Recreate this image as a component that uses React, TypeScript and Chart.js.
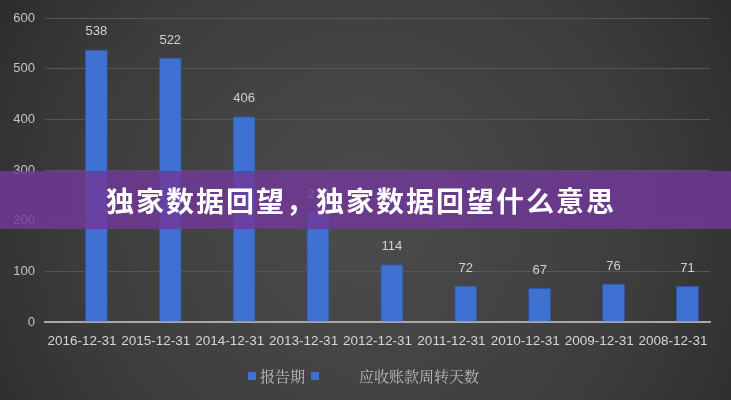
import { useEffect, useRef } from 'react';
import { Chart, registerables } from 'chart.js';

Chart.register(...registerables);

const periods = [
  '2016-12-31', '2015-12-31', '2014-12-31', '2013-12-31', '2012-12-31',
  '2011-12-31', '2010-12-31', '2009-12-31', '2008-12-31',
];
const turnoverDays = [538, 522, 406, 218, 114, 72, 67, 76, 71];
const periodSeries = periods.map(() => null);
const yTicks = [0, 100, 200, 300, 400, 500, 600];
const legendNames = ['报告期', '应收账款周转天数'];
const bannerText = '独家数据回望，独家数据回望什么意思';

const BAR = '#3f71d2';

// dark vignette behind everything
const backdrop = {
  id: 'backdrop',
  beforeDraw(chart: Chart) {
    const { ctx, width, height } = chart;
    const g = ctx.createRadialGradient(width * 0.5, height * 0.55, 40, width * 0.5, height * 0.55, width * 0.62);
    g.addColorStop(0, '#4a4a4a');
    g.addColorStop(0.6, '#3c3c3c');
    g.addColorStop(1, '#2a2a2a');
    ctx.save();
    ctx.fillStyle = g;
    ctx.fillRect(0, 0, width, height);
    ctx.restore();
  },
};

// value above each bar
const valueLabels = {
  id: 'valueLabels',
  afterDatasetsDraw(chart: Chart) {
    const { ctx } = chart;
    const meta = chart.getDatasetMeta(1);
    ctx.save();
    ctx.font = '13px "Liberation Sans", Arial, sans-serif';
    ctx.fillStyle = '#d2d2d2';
    ctx.textAlign = 'center';
    ctx.textBaseline = 'bottom';
    meta.data.forEach((el: any, i: number) => {
      ctx.fillText(String(turnoverDays[i]), el.x, el.y - 11);
    });
    ctx.restore();
  },
};

export default function App() {
  const canvasRef = useRef<HTMLCanvasElement>(null);
  const chartRef = useRef<Chart | null>(null);

  useEffect(() => {
    if (!canvasRef.current) return;
    if (chartRef.current) chartRef.current.destroy();
    const ctx = canvasRef.current.getContext('2d');
    if (!ctx) return;

    chartRef.current = new Chart(ctx, {
      type: 'bar',
      data: {
        labels: periods,
        datasets: [
          { label: legendNames[0], data: periodSeries, backgroundColor: BAR },
          {
            label: legendNames[1],
            data: turnoverDays,
            backgroundColor: BAR,
            borderColor: '#2d56a3',
            borderWidth: 1,
          },
        ],
      },
      options: {
        animation: false,
        responsive: true,
        maintainAspectRatio: false,
        layout: { padding: { top: 18, right: 21, bottom: 48, left: 0 } },
        datasets: { bar: { barPercentage: 0.8, categoryPercentage: 0.78 } },
        plugins: {
          legend: { display: false },
          tooltip: { enabled: false },
        },
        scales: {
          x: {
            grid: { display: false, drawTicks: false },
            border: { color: '#a9a9a9', width: 2 },
            ticks: {
              color: '#d6d6d6',
              padding: 11,
              maxRotation: 0,
              autoSkip: false,
              font: { family: '"Liberation Sans", Arial, sans-serif', size: 13.5 },
            },
            afterFit: (s: any) => { s.height = 30; },
          },
          y: {
            min: 0,
            max: 600,
            afterBuildTicks: (s: any) => { s.ticks = yTicks.map((v) => ({ value: v })); },
            grid: { color: '#565656', lineWidth: 1, drawTicks: false },
            border: { display: false },
            ticks: {
              color: '#c4c4c4',
              padding: 10,
              font: { family: '"Liberation Sans", Arial, sans-serif', size: 13 },
            },
            afterFit: (s: any) => { s.width = 45; },
          },
        },
      },
      plugins: [backdrop, valueLabels],
    });

    return () => { chartRef.current?.destroy(); };
  }, []);

  return (
    <div style={{ position: 'fixed', left: 0, top: 0, width: 731, height: 400, overflow: 'hidden' }}>
      <canvas ref={canvasRef} />
      <div
        style={{
          position: 'absolute', left: 0, top: 365, width: 731, display: 'flex',
          justifyContent: 'center', alignItems: 'center', color: '#bdbdbd',
          fontFamily: '"Noto Serif CJK SC", "Noto Sans CJK SC", serif', fontSize: 15, lineHeight: '22px',
        }}
      >
        <div style={{ display: 'flex', alignItems: 'center', marginLeft: -4 }}>
          <span style={{ width: 8, height: 8, background: BAR, display: 'inline-block', marginRight: 4 }} />
          <span>{legendNames[0]}</span>
          <span style={{ width: 8, height: 8, background: BAR, display: 'inline-block', marginLeft: 6, marginRight: 40 }} />
          <span>{legendNames[1]}</span>
        </div>
      </div>
      <div
        style={{
          position: 'absolute', left: 0, top: 171, width: 731, height: 58,
          background: 'rgba(112, 56, 152, 0.82)', display: 'flex', alignItems: 'center',
        }}
      >
        <span
          style={{
            marginLeft: 106, color: '#ffffff', fontWeight: 700, fontSize: 28,
            fontFamily: '"Noto Sans CJK SC", sans-serif', letterSpacing: 2,
          }}
        >
          {bannerText}
        </span>
      </div>
    </div>
  );
}
